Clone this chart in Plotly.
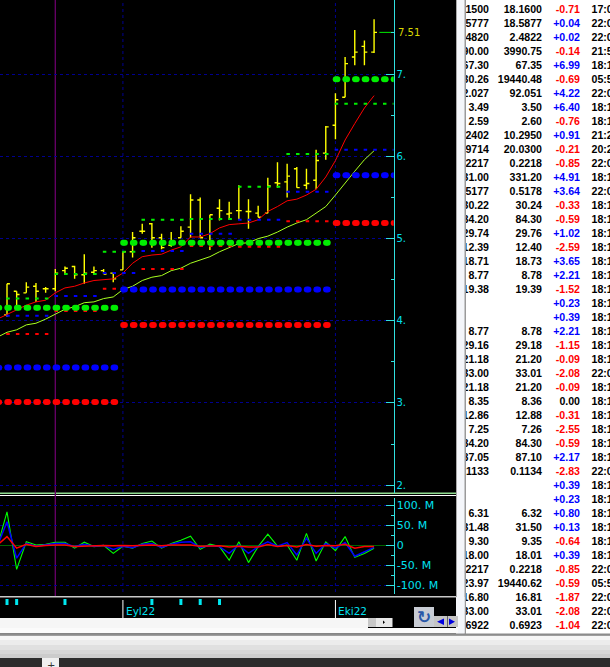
import plotly.graph_objects as go

W, H = 610, 667

# price bars
high = [4.45,4.36,4.47,4.46,4.41,4.63,4.66,4.67,4.81,4.66,4.63,4.58,4.84,5.08,5.18,5.19,5.06,5.08,5.15,5.54,
        5.50,5.29,5.48,5.45,5.65,5.48,5.40,5.74,5.93,5.91,5.87,5.85,6.08,6.37,6.77,7.21,7.54,7.41,7.67]
low = [4.05,4.17,4.34,4.23,4.34,4.36,4.56,4.51,4.45,4.56,4.57,4.47,4.62,4.77,5.06,4.89,4.87,4.90,5.01,5.01,
       5.01,4.86,5.22,5.23,5.23,5.12,5.26,5.31,5.62,5.50,5.62,5.60,5.60,5.96,6.21,6.72,7.11,7.11,7.26]
opn = [4.07,4.36,4.34,4.42,4.39,4.39,4.61,4.66,4.56,4.59,4.61,4.58,4.62,4.84,5.09,5.18,5.01,4.92,5.01,5.14,
       5.47,4.96,5.37,5.30,5.34,5.33,5.31,5.31,5.68,5.69,5.85,5.65,5.71,6.04,6.38,6.72,7.21,7.34,7.27]
cls = [4.45,4.32,4.41,4.36,4.39,4.58,4.64,4.56,4.58,4.61,4.57,4.51,4.84,5.01,5.09,5.01,4.89,4.97,5.09,5.47,
       5.01,5.29,5.34,5.31,5.34,5.33,5.26,5.64,5.67,5.76,5.62,5.67,5.95,6.36,6.69,7.13,7.27,7.27,7.51]
days = list(range(len(high)))

# moving averages start one bar earlier, off the left edge
ma_days = list(range(-1, len(high)))
ma_red = [4.02,4.08,4.14,4.19,4.23,4.25,4.34,4.40,4.42,4.46,4.49,4.50,4.51,4.58,4.70,4.78,4.80,4.81,4.86,4.90,
          5.02,5.02,5.06,5.13,5.17,5.18,5.19,5.23,5.33,5.39,5.46,5.48,5.53,5.60,5.75,5.95,6.20,6.40,6.59,6.74]
ma_lime = [3.80,3.86,3.89,3.95,3.97,4.02,4.08,4.14,4.17,4.22,4.23,4.27,4.29,4.38,4.42,4.49,4.53,4.55,4.61,4.64,
           4.70,4.74,4.78,4.84,4.89,4.94,4.95,5.00,5.03,5.08,5.14,5.19,5.23,5.31,5.39,5.53,5.68,5.82,5.96,6.07]

# monthly levels: first bar, last bar, green, blue, red
thick_first = [-1, 12, 34]
thick_last = [11, 33, 40]
thick_green = [4.16, 4.95, 6.94]
thick_blue = [3.43, 4.38, 5.77]
thick_red = [3.01, 3.95, 5.19]

# shorter levels
thin_first = [-1, 5, 10, 14, 19, 24, 29, 34]
thin_last = [4, 9, 13, 18, 23, 28, 33, 40]
thin_green = [4.27, 4.57, 4.84, 5.23, 5.24, 5.63, 6.03, 6.64]
thin_blue = [4.06, 4.30, 4.58, 4.85, 5.06, 5.23, 5.57, 6.08]
thin_red = [3.84, 4.12, 4.39, 4.63, 4.91, 4.90, 5.21, None]

# lower panel, millions
osc_green = [-3,84,-60,9,1,3,8,8,-7,8,-3,0,-20,-2,-7,5,11,-7,5,13,23,-10,3,-3,-37,9,-43,-3,28,-2,1,-37,30,-39,9,-13,22,-30,-20,-7]
osc_blue = [-2,59,-32,5,-2,1,5,5,-3,3,-2,0,-10,-2,-6,3,5,-5,3,8,9,-5,0,-3,-20,1,-20,-3,9,-2,7,-24,18,-20,5,-7,7,-27,-16,-5]
osc_red = [1,22,-7,3,-3,0,1,1,-3,-2,0,0,-1,0,-1,0,1,-1,1,1,1,-2,-1,-1,-4,-2,-4,-4,2,-3,0,-4,2,-2,0,-1,3,-7,-3,-3]

event_days = [0, 1, 6, 15, 18, 20, 22]
month_days = [12, 34]
month_names = ["Eyl22", "Eki22"]
cursor_day = 5

price_ticks = [2, 3, 4, 5, 6, 7]
price_labels = ["2.", "3.", "4.", "5.", "6.", "7."]
price_minor = [2.5, 3.5, 4.5, 5.5, 6.5, 7.51]
osc_ticks = [-100, -50, 0, 50, 100]
osc_labels = ["-100. M", "-50. M", "0", "50. M", "100. M"]
osc_minor = [-75, -25, 25, 75]

# quote table on the right
bid = ["18.1500","18.5777","2.4820","3990.00","67.30","19430.26","92.027","3.49","2.59","10.2402","19.9714","0.2217",
       "331.00","0.5177","30.22","84.20","29.74","12.39","18.71","8.77","19.38","","","8.77","29.16","21.18","33.00",
       "21.18","8.35","12.86","7.25","84.20","87.05","0.1133","","","6.31","31.48","9.30","18.00","0.2217","19423.97",
       "16.80","33.00","0.6922"]
ask = ["18.1600","18.5877","2.4822","3990.75","67.35","19440.48","92.051","3.50","2.60","10.2950","20.0300","0.2218",
       "331.20","0.5178","30.24","84.30","29.76","12.40","18.73","8.78","19.39","","","8.78","29.18","21.20","33.01",
       "21.20","8.36","12.88","7.26","84.30","87.10","0.1134","","","6.32","31.50","9.35","18.01","0.2218","19440.62",
       "16.81","33.01","0.6923"]
change = ["-0.71","+0.04","+0.02","-0.14","+6.99","-0.69","+4.22","+6.40","-0.76","+0.91","-0.21","-0.85","+4.91",
          "+3.64","-0.33","-0.59","+1.02","-2.59","+3.65","+2.21","-1.52","+0.23","+0.39","+2.21","-1.15","-0.09",
          "-2.08","-0.09","0.00","-0.31","-2.55","-0.59","+2.17","-2.83","+0.39","+0.23","+0.80","+0.13","-0.64",
          "+0.39","-0.85","-0.59","-1.87","-2.08","-1.04"]
times = ["17:0","22:0","22:0","21:5","18:1","05:5","22:0","18:1","18:1","21:2","20:2","22:0","18:1",
         "22:0","18:1","18:1","18:1","18:1","18:1","18:1","18:1","18:1","18:1","18:1","18:1","18:1",
         "22:0","18:1","18:1","18:1","18:1","18:1","18:1","22:0","18:1","18:1","18:1","18:1","18:1",
         "18:1","22:0","05:5","22:0","22:0","22:0"]
rows = list(range(len(bid)))

CYAN = "#00e0f0"
GRID = "#000090"


def px_x(x):
    return x / W


def px_y(y):
    return 1 - y / H


def rect(x0, y0, x1, y1, color):
    return dict(type="rect", xref="paper", yref="paper", layer="below", line_width=0, fillcolor=color,
                x0=px_x(x0), x1=px_x(x1), y0=px_y(y0), y1=px_y(y1))


def tri(x0, x1, y0, y1, color):
    # arrow pointing from the base at x0 to the tip at x1
    path = f"M {px_x(x0)} {px_y(y0)} L {px_x(x1)} {px_y((y0 + y1) / 2)} L {px_x(x0)} {px_y(y1)} Z"
    return dict(type="path", xref="paper", yref="paper", path=path, fillcolor=color, line_width=0)


fig = go.Figure()

fig.add_trace(go.Ohlc(x=days, open=opn, high=high, low=low, close=cls, tickwidth=0.3, yaxis="y",
                      increasing=dict(line=dict(color="#ffff00", width=1.4)),
                      decreasing=dict(line=dict(color="#ffff00", width=1.4))))
fig.add_trace(go.Scatter(x=ma_days, y=ma_red, mode="lines", line=dict(color="#ff0000", width=1)))
fig.add_trace(go.Scatter(x=ma_days, y=ma_lime, mode="lines", line=dict(color="#a8ff20", width=1)))

for vals, col in [(thin_red, "#ff0000"), (thin_blue, "#0000ff"), (thin_green, "#00ee00")]:
    for a, b, v in zip(thin_first, thin_last, vals):
        if v is None:
            continue
        fig.add_trace(go.Scatter(x=[a - 0.08, b + 0.5], y=[v, v], mode="lines",
                                 line=dict(color=col, width=2, dash="3.5px,6.16px")))

# each fat dot is two overlapping circles, which gives the flattened pill of the original
for vals, col in [(thick_red, "#ff0000"), (thick_blue, "#0000ff"), (thick_green, "#00ee00")]:
    for a, b, v in zip(thick_first, thick_last, vals):
        dots = [d + off for d in range(a, b + 1) for off in (0.03, 0.2)]
        fig.add_trace(go.Scatter(x=dots, y=[v] * len(dots), mode="markers",
                                 marker=dict(color=col, size=6, line_width=0)))

# last price marker
fig.add_trace(go.Scatter(x=[38.55, 40], y=[cls[-1], cls[-1]], mode="lines", line=dict(color="#00ee00", width=1)))

fig.add_trace(go.Scatter(x=ma_days, y=osc_green, mode="lines", yaxis="y2", line=dict(color="#00ff00", width=1.1)))
fig.add_trace(go.Scatter(x=ma_days, y=osc_blue, mode="lines", yaxis="y2", line=dict(color="#0000ff", width=1.5)))
fig.add_trace(go.Scatter(x=ma_days, y=osc_red, mode="lines", yaxis="y2", line=dict(color="#ff0000", width=1.5)))

fig.add_trace(go.Bar(x=event_days, y=[0.29] * len(event_days), base=0.62, width=0.31, yaxis="y3",
                     marker=dict(color="#00e8f0", line_width=0)))

# table columns are clipped by the subplot, like the scrolled list in the picture
for col_x, col_text, pos in [(489, bid, "middle left"), (542, ask, "middle left"), (580, change, "middle left"),
                             (591.5, times, "middle right")]:
    if col_text is change:
        colors = ["#0000ff" if c[0] == "+" else "#ff0000" if c[0] == "-" else "#000000" for c in col_text]
    else:
        colors = "#000000"
    fig.add_trace(go.Scatter(x=[col_x] * len(rows), y=rows, text=col_text, mode="text", textposition=pos,
                             xaxis="x2", yaxis="y4",
                             textfont=dict(family="Liberation Sans", size=10.6, weight=700, color=colors)))

shapes = [
    rect(456, 0, 466, 634, "#f4f6fa"),
    rect(465, 0, 610, 634, "#ffffff"),
    rect(464.5, 0, 466, 634, "#9a9a9a"),
    rect(456, 0, 457, 597, "#a8a8a8"),
    rect(0, 492.5, 456, 494, "#90dc90"),
    rect(0, 495, 456, 496, "#ffffff"),
    rect(0, 596, 456, 597.5, "#c8c8c8"),
    rect(0, 618, 368, 628, "#f6f6f6"),
    rect(0, 628, 458, 633.5, "#fbfbfb"),
    rect(458, 597, 464.5, 633.5, "#f4f6fa"),
    rect(0, 633.5, 610, 635.5, "#8c8c8c"),
    rect(0, 635.5, 610, 640, "#f6f6f6"),
    rect(0, 640, 610, 645, "#ececec"),
    rect(0, 645, 610, 650, "#e0e0e0"),
    rect(0, 650, 610, 654, "#d6d6d6"),
    rect(0, 654, 610, 658, "#cccccc"),
    rect(0, 658, 610, 667, "#2c2c2c"),
    rect(42, 658, 59, 667, "#f0f0f0"),
    # scroller and buttons
    rect(368, 618, 376, 627, "#c8c8c8"),
    rect(376, 618, 392.5, 627, "#e8e8e8"),
    rect(414, 607, 434, 627, "#c8ccd4"),
    rect(434, 616, 447.5, 627, "#c4c4c4"),
    rect(448, 616, 458, 627, "#c4c4c4"),
    tri(444, 437, 618.5, 625, "#0000e0"),
    tri(449, 455, 618.5, 625, "#0000e0"),
    tri(383, 385, 620.5, 624, "#000000"),
]
# cursor and month separators
shapes.append(dict(type="line", xref="x", yref="paper", layer="below", x0=cursor_day, x1=cursor_day,
                   y0=px_y(596), y1=1, line=dict(color="#6a006a", width=1.3)))
for d in month_days:
    shapes.append(dict(type="line", xref="x", yref="paper", layer="below", x0=d, x1=d, y0=px_y(492), y1=1,
                       line=dict(color=GRID, width=1, dash="3px,3px")))
    shapes.append(dict(type="line", xref="x", yref="paper", layer="below", x0=d, x1=d, y0=px_y(592), y1=px_y(496),
                       line=dict(color=GRID, width=1, dash="3px,3px")))
    shapes.append(dict(type="line", xref="x", yref="paper", x0=d, x1=d, y0=px_y(618), y1=px_y(600),
                       line=dict(color="#ffffff", width=1)))

annotations = [
    dict(text="7.51", xref="paper", yref="y", x=px_x(395.5), y=cls[-1], xanchor="left", yanchor="middle",
         showarrow=False, font=dict(family="DejaVu Sans", size=10, color="#d8d800")),
    dict(text="<b>↻</b>", xref="paper", yref="paper", x=px_x(424), y=px_y(617), xanchor="center", yanchor="middle",
         showarrow=False, font=dict(family="DejaVu Sans", size=17, color="#2858a8")),
    dict(text="+", xref="paper", yref="paper", x=px_x(50.5), y=px_y(665), xanchor="center", yanchor="middle",
         showarrow=False, font=dict(family="DejaVu Sans", size=10, color="#333333")),
    dict(text="22:05", xref="paper", yref="paper", x=px_x(547), y=px_y(671), xanchor="center", yanchor="middle",
         showarrow=False, font=dict(family="Liberation Sans", size=11, color="#ffffff")),
]
for d, name in zip(month_days, month_names):
    annotations.append(dict(text=name, xref="x", yref="paper", x=d, xshift=1, y=px_y(611), xanchor="left",
                            yanchor="middle", showarrow=False,
                            font=dict(family="DejaVu Sans", size=10.5, color=CYAN)))

axis_style = dict(side="right", anchor="x", showline=True, linecolor="#30e0e0", linewidth=1, ticks="inside",
                  ticklen=8, tickcolor="#30e0e0", tickmode="array", showgrid=True, gridcolor=GRID,
                  griddash="3px,3px", gridwidth=1)

fig.update_layout(
    width=W, height=H, autosize=False, showlegend=False, hovermode=False,
    margin=dict(l=0, r=0, t=0, b=0, pad=0),
    paper_bgcolor="#000000", plot_bgcolor="rgba(0,0,0,0)",
    shapes=shapes, annotations=annotations,
    xaxis=dict(domain=[0, px_x(393.5)], range=[-0.725, 40.01], visible=False, rangeslider=dict(visible=False),
               anchor="y3"),
    xaxis2=dict(domain=[px_x(466), 1], range=[466, 610], visible=False, anchor="y4"),
    yaxis=dict(domain=[px_y(492.5), 1], range=[1.91, 7.904], tickvals=price_ticks, ticktext=price_labels,
               zeroline=False, tickfont=dict(family="DejaVu Sans", size=10, color=CYAN),
               minor=dict(tickvals=price_minor, ticks="inside", ticklen=3, tickcolor="#30e0e0", showgrid=False),
               **axis_style),
    yaxis2=dict(domain=[px_y(594), px_y(498)], range=[-121.5, 118.5], tickvals=osc_ticks, ticktext=osc_labels,
                zeroline=True, zerolinecolor="#006400", zerolinewidth=1,
                tickfont=dict(family="DejaVu Sans", size=11, color=CYAN),
                minor=dict(tickvals=osc_minor, ticks="inside", ticklen=3, tickcolor="#30e0e0", showgrid=False),
                **axis_style),
    yaxis3=dict(domain=[px_y(618), px_y(597)], range=[0, 1], visible=False, anchor="x"),
    yaxis4=dict(domain=[px_y(634), 1], range=[44.57, -0.714], visible=False, anchor="x2"),
)

fig.write_html("out.html", config=dict(displayModeBar=False),
               post_script="document.body.style.margin='0';document.body.style.overflow='hidden';")
